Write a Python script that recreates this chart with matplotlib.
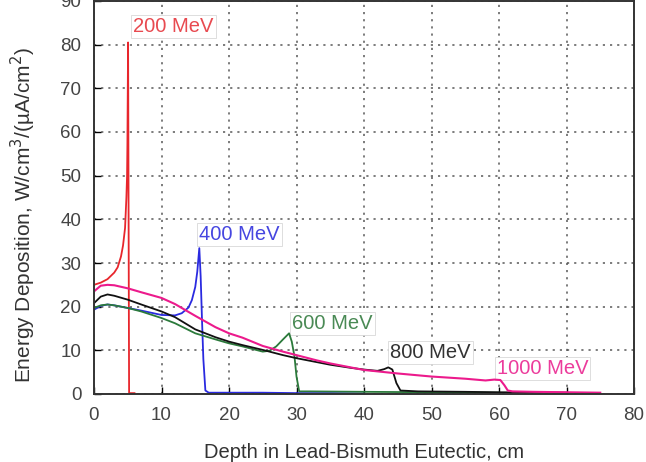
import matplotlib
matplotlib.use('Agg')
import matplotlib.pyplot as plt

plt.rcParams['font.family'] = ['Liberation Sans', 'DejaVu Sans']

# energy deposition curves (depth cm, W/cm3/(uA/cm2))
red_x = [0, 1, 2, 3, 3.5, 4.0, 4.3, 4.6, 4.8, 4.9, 4.95, 5.05, 5.2, 6.0]
red_y = [25.0, 25.5, 26.3, 27.8, 29.0, 31.5, 34.0, 38.0, 45.0, 50.0, 57.0, 80.5, 0.2, 0.2]

blue_x = [0, 1, 2, 3, 5, 7, 10, 12, 13, 14, 14.5, 15, 15.3, 15.6, 15.8, 16.0, 16.2, 16.5, 17, 20, 25, 30, 35, 40]
blue_y = [19.3, 20.2, 20.5, 20.3, 19.7, 19.1, 18.1, 18.0, 18.5, 19.8, 21.5, 24.5, 28.0, 33.4, 27.0, 17.0, 8.0, 0.8, 0.3, 0.3, 0.3, 0.2, 0.2, 0.1]

green_x = [0, 1, 2, 3, 5, 7, 10, 12, 15, 18, 20, 22, 25, 26, 27, 28, 28.9, 29.3, 29.7, 30.0, 30.4, 32, 40, 50, 60]
green_y = [19.7, 20.3, 20.5, 20.3, 19.7, 18.9, 17.4, 16.2, 13.9, 12.5, 11.6, 10.9, 9.7, 9.9, 10.9, 12.5, 13.9, 12.0, 8.6, 4.0, 0.6, 0.6, 0.5, 0.4, 0.3]

black_x = [0, 1, 2, 3, 5, 7, 10, 12, 15, 18, 20, 22, 25, 28, 30, 33, 35, 38, 40, 42, 43, 43.6, 44.2, 44.8, 45.4, 48, 55, 60, 70]
black_y = [20.8, 22.3, 22.8, 22.5, 21.6, 20.5, 18.9, 17.6, 14.8, 13.0, 12.0, 11.2, 10.1, 8.9, 8.2, 7.3, 6.7, 6.0, 5.6, 5.3, 5.7, 6.1, 5.6, 2.5, 0.8, 0.6, 0.5, 0.4, 0.3]

pink_x = [0, 1, 2, 3, 5, 7, 10, 12, 15, 18, 20, 22, 25, 28, 30, 33, 35, 38, 40, 45, 50, 55, 58, 59.3, 60.2, 60.8, 61.3, 62, 65, 70, 75]
pink_y = [23.5, 24.8, 25.0, 24.9, 24.2, 23.3, 22.0, 20.6, 17.9, 15.3, 13.9, 12.9, 11.0, 9.7, 8.9, 7.7, 7.0, 6.1, 5.5, 4.7, 4.0, 3.5, 3.1, 3.3, 3.2, 2.0, 0.8, 0.6, 0.5, 0.4, 0.3]

labels = ["200 MeV", "400 MeV", "600 MeV", "800 MeV", "1000 MeV"]
label_x = [5.8, 15.6, 29.4, 43.9, 59.7]
label_y = [84.1, 36.5, 16.1, 9.5, 5.9]

fig = plt.figure(figsize=(6.46, 4.62), dpi=100)
ax = fig.add_axes([94 / 646, 68 / 462, 540 / 646, 393 / 462])

ax.plot(red_x, red_y, color="#e8262c", linewidth=1.3)
ax.plot(blue_x, blue_y, color="#2a2ae0", linewidth=1.3)
ax.plot(green_x, green_y, color="#2b7a3b", linewidth=1.3)
ax.plot(black_x, black_y, color="#111111", linewidth=1.3)
ax.plot(pink_x, pink_y, color="#ec1a8c", linewidth=1.5)

# labels sit above the grid but under the curves
text_colors = ["#e84a50", "#4646e0", "#4a8a55", "#333333", "#ec3c9c"]
for lab, lx, ly, tc in zip(labels, label_x, label_y, text_colors):
    ax.text(lx, ly, lab, color=tc, fontsize=14.5, ha="left", va="center", zorder=1.8,
            bbox=dict(facecolor="white", edgecolor="#d8d8d8", linewidth=0.6, pad=1.5))

ax.set_xlim(0, 80)
ax.set_ylim(0, 90)
ax.set_xticks(range(0, 81, 10))
ax.set_yticks(range(0, 91, 10))
ax.set_axisbelow(True)
ax.grid(True, color="#555555", linestyle=(0, (1.3, 3)), linewidth=1.2, alpha=0.9)
ax.tick_params(direction="in", length=5, width=1, labelsize=13.5, labelcolor="#444444", pad=9)

for side in ["left", "bottom", "top", "right"]:
    ax.spines[side].set_color("#333333")
    ax.spines[side].set_linewidth(1.4)

ax.set_xlabel("Depth in Lead-Bismuth Eutectic, cm", fontsize=14.5, color="#333333")
ax.set_ylabel("Energy Deposition, W/cm$^3$/(\u00b5A/cm$^2$)", fontsize=15, color="#333333")
ax.xaxis.set_label_coords(0.5, -0.125)
ax.yaxis.set_label_coords(-0.104, 0.455)

plt.savefig("out.png", dpi=100)
plt.close()
